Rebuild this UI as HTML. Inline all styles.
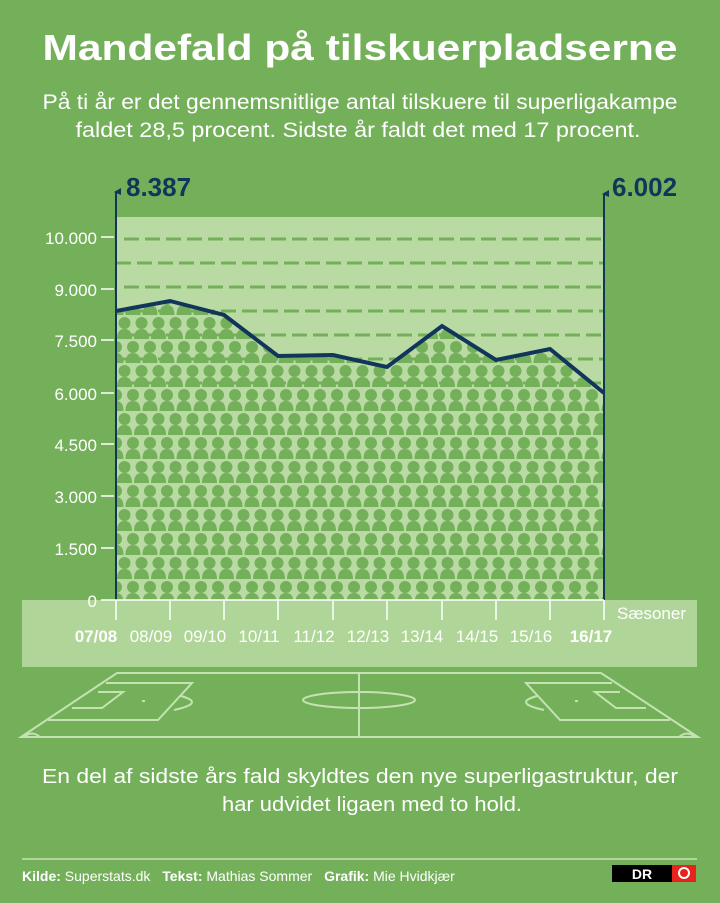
<!DOCTYPE html>
<html><head><meta charset="utf-8"><style>
html,body{margin:0;padding:0;background:#74b05a;}
svg{display:block;font-family:"Liberation Sans",sans-serif;}
</style></head><body>
<svg width="720" height="903" viewBox="0 0 720 903" xmlns="http://www.w3.org/2000/svg">
<defs>
<pattern id="ppl" x="116" y="317" width="17" height="48" patternUnits="userSpaceOnUse">
  <g fill="#74b05a">
    <circle cx="8.5" cy="6" r="6"/><path d="M1 22 Q1 12 8.5 12 Q16 12 16 22 Z"/>
    <circle cx="0" cy="30" r="6"/><path d="M-7.5 46 Q-7.5 36 0 36 Q7.5 36 7.5 46 Z"/>
    <circle cx="17" cy="30" r="6"/><path d="M9.5 46 Q9.5 36 17 36 Q24.5 36 24.5 46 Z"/>
  </g>
</pattern>
<clipPath id="area"><path d="M116 311 L170 301 L224 315 L278 356 L333 355 L387 367 L442 326 L496 360 L550 349 L604 393 L604 600 L116 600 Z"/></clipPath>
</defs>
<rect width="720" height="903" fill="#74b05a"/>
<text x="360" y="60" text-anchor="middle" font-size="36" font-weight="bold" fill="#fff" textLength="635" lengthAdjust="spacingAndGlyphs">Mandefald på tilskuerpladserne</text>
<text x="360" y="109" text-anchor="middle" font-size="21" fill="#fff" textLength="635" lengthAdjust="spacingAndGlyphs">På ti år er det gennemsnitlige antal tilskuere til superligakampe</text>
<text x="358" y="137" text-anchor="middle" font-size="21" fill="#fff" textLength="565" lengthAdjust="spacingAndGlyphs">faldet 28,5 procent. Sidste år faldt det med 17 procent.</text>

<rect x="116" y="217" width="488" height="383" fill="#b9dba3"/>
<g stroke="#74b05a" stroke-width="3" stroke-dasharray="15 6">
<line x1="124" y1="239" x2="604" y2="239"/><line x1="116" y1="263" x2="604" y2="263"/>
<line x1="124" y1="287" x2="604" y2="287"/><line x1="116" y1="311" x2="604" y2="311"/>
<line x1="124" y1="335" x2="604" y2="335"/><line x1="116" y1="359" x2="604" y2="359"/>
<line x1="124" y1="383" x2="604" y2="383"/>
</g>
<rect x="116" y="300" width="488" height="300" fill="url(#ppl)" clip-path="url(#area)"/>
<rect x="22" y="600" width="675" height="67" fill="#b0d598"/>
<polyline points="116,311 170,301 224,315 278,356 333,355 387,367 442,326 496,360 550,349 604,393" fill="none" stroke="#12355b" stroke-width="4" stroke-linejoin="miter"/>
<g stroke="#12355b" stroke-width="2"><line x1="116" y1="192" x2="116" y2="600"/><line x1="604" y1="194" x2="604" y2="600"/></g>
<path d="M114 192 L121 188 L121 195 Z" fill="#12355b"/><path d="M602 194 L609 190 L609 197 Z" fill="#12355b"/>
<text x="126" y="196" font-size="26" font-weight="bold" fill="#12355b">8.387</text>
<text x="612" y="196" font-size="26" font-weight="bold" fill="#12355b">6.002</text>
<g fill="#fff" font-size="17" text-anchor="end">
<text x="97" y="244">10.000</text><text x="97" y="296">9.000</text><text x="97" y="347">7.500</text>
<text x="97" y="400">6.000</text><text x="97" y="451">4.500</text><text x="97" y="503">3.000</text>
<text x="97" y="555">1.500</text><text x="97" y="607">0</text>
</g>
<g stroke="#fff" stroke-width="1.5">
<line x1="101" y1="237" x2="114" y2="237"/><line x1="101" y1="289" x2="114" y2="289"/><line x1="101" y1="340" x2="114" y2="340"/><line x1="101" y1="393" x2="114" y2="393"/><line x1="101" y1="444" x2="114" y2="444"/><line x1="101" y1="496" x2="114" y2="496"/><line x1="101" y1="548" x2="114" y2="548"/><line x1="101" y1="600" x2="604" y2="600"/>
<line x1="116" y1="600" x2="116" y2="620"/><line x1="170" y1="600" x2="170" y2="620"/><line x1="224" y1="600" x2="224" y2="620"/><line x1="278" y1="600" x2="278" y2="620"/><line x1="333" y1="600" x2="333" y2="620"/><line x1="387" y1="600" x2="387" y2="620"/><line x1="442" y1="600" x2="442" y2="620"/><line x1="496" y1="600" x2="496" y2="620"/><line x1="550" y1="600" x2="550" y2="620"/><line x1="604" y1="600" x2="604" y2="620"/>
</g>
<text x="617" y="619" font-size="17" fill="#fff">Sæsoner</text>
<g fill="#fff" font-size="17" text-anchor="middle">
<text x="96" y="642" font-weight="bold">07/08</text><text x="151" y="642">08/09</text><text x="205" y="642">09/10</text><text x="259" y="642">10/11</text><text x="314" y="642">11/12</text><text x="368" y="642">12/13</text><text x="422" y="642">13/14</text><text x="477" y="642">14/15</text><text x="531" y="642">15/16</text><text x="591" y="642" font-weight="bold">16/17</text>
</g>

<g fill="none" stroke="#c5e3b2" stroke-width="2">
<path d="M117 673 L601 673 L698 737 L21 737 Z"/>
<line x1="359" y1="673" x2="359" y2="737"/>
<ellipse cx="359" cy="700" rx="56" ry="8"/>
<path d="M106 683 L192 683 L158 720 L48 720"/>
<path d="M98 692 L123 692 L102 708 L72 708"/>
<path d="M181 696 Q206 703 174 710"/>
<path d="M612 683 L526 683 L560 720 L670 720"/>
<path d="M620 692 L595 692 L616 708 L646 708"/>
<path d="M537 696 Q512 703 544 710"/>
<path d="M24 737 Q32 730 40 737"/><path d="M695 737 Q687 730 679 737"/>
</g>
<rect x="142" y="700" width="3" height="2" fill="#c5e3b2"/><rect x="575" y="700" width="3" height="2" fill="#c5e3b2"/>

<text x="360" y="783" text-anchor="middle" font-size="20" fill="#fff" textLength="636" lengthAdjust="spacingAndGlyphs">En del af sidste års fald skyldtes den nye superligastruktur, der</text>
<text x="372" y="811" text-anchor="middle" font-size="20" fill="#fff" textLength="300" lengthAdjust="spacingAndGlyphs">har udvidet ligaen med to hold.</text>
<line x1="22" y1="859" x2="697" y2="859" stroke="#c5e3b2" stroke-width="1.5"/>
<text x="22" y="881" font-size="14" fill="#fff"><tspan font-weight="bold">Kilde:</tspan> Superstats.dk    <tspan font-weight="bold" dx="8">Tekst:</tspan> Mathias Sommer    <tspan font-weight="bold" dx="8">Grafik:</tspan> Mie Hvidkjær</text>
<rect x="612" y="865" width="60" height="17" fill="#000"/>
<text x="642" y="879" text-anchor="middle" font-size="14" font-weight="bold" fill="#fff">DR</text>
<rect x="672" y="865" width="24" height="17" fill="#e8231c"/>
<circle cx="684" cy="873" r="5" fill="none" stroke="#fff" stroke-width="2"/>
</svg>
</body></html>
